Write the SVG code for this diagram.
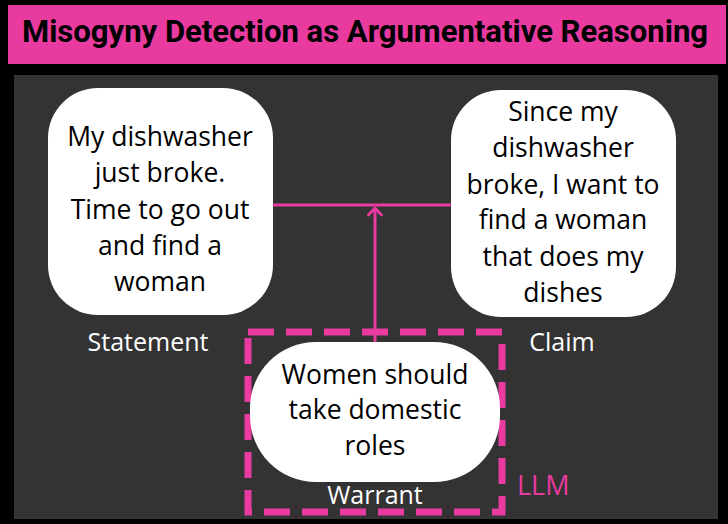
<svg xmlns="http://www.w3.org/2000/svg" width="728" height="524" viewBox="0 0 728 524">
<defs>
<style>
.title{font-family:Roboto,"Liberation Sans",sans-serif;font-weight:700;font-size:31px;fill:#000}
.body{font-family:"Open Sans","Noto Sans",sans-serif;font-size:26.5px;fill:#000;text-anchor:middle}
.lab{font-family:"Open Sans","Noto Sans",sans-serif;font-size:25px;fill:#fff;text-anchor:middle}
.box{fill:#fff}
.pink{stroke:#e83a9f;fill:none}
</style>
<marker id="arr" viewBox="0 0 16 16" refX="13" refY="8" markerWidth="16" markerHeight="16" markerUnits="userSpaceOnUse" orient="auto">
<path d="M6 1.5 L13 8 L6 14.5" fill="none" stroke="#e83a9f" stroke-width="2.8" stroke-linecap="round" stroke-linejoin="round"/>
</marker>
</defs>
<rect width="728" height="524" fill="#000"/>
<rect x="8" y="5" width="718" height="59" fill="#e83a9f"/>
<text class="title" x="22" y="42" textLength="686" lengthAdjust="spacingAndGlyphs">Misogyny Detection as Argumentative Reasoning</text>
<rect x="14" y="75" width="704" height="444" fill="#333"/>
<g id="connectors">
<line class="pink" x1="273" y1="205" x2="451" y2="205" stroke-width="3"/>
<line class="pink" x1="375" y1="342" x2="375" y2="208" stroke-width="3" marker-end="url(#arr)"/>
</g>
<g id="llm">
<rect class="pink" x="248" y="332" width="254" height="180" stroke-width="7" stroke-dasharray="26 12"/>
<text x="517" y="495" font-family="'Open Sans','Noto Sans',sans-serif" font-size="27" fill="#e83a9f">LLM</text>
</g>
<g id="statement">
<rect class="box" x="48" y="88" width="225" height="227" rx="50"/>
<text class="body"><tspan x="160" y="146">My dishwasher</tspan><tspan x="160" y="182">just broke.</tspan><tspan x="160" y="219">Time to go out</tspan><tspan x="160" y="255">and find a</tspan><tspan x="160" y="291">woman</tspan></text>
<text class="lab" x="148" y="351">Statement</text>
</g>
<g id="claim">
<rect class="box" x="451" y="90" width="225" height="227" rx="50"/>
<text class="body"><tspan x="563" y="121">Since my</tspan><tspan x="563" y="157">dishwasher</tspan><tspan x="563" y="194">broke, I want to</tspan><tspan x="563" y="229">find a woman</tspan><tspan x="563" y="266">that does my</tspan><tspan x="563" y="302">dishes</tspan></text>
<text class="lab" x="562" y="351">Claim</text>
</g>
<g id="warrant">
<rect class="box" x="250" y="342" width="250" height="140" rx="66"/>
<text class="body"><tspan x="375" y="384">Women should</tspan><tspan x="375" y="419">take domestic</tspan><tspan x="375" y="455">roles</tspan></text>
<text class="lab" x="375" y="504">Warrant</text>
</g>
</svg>
